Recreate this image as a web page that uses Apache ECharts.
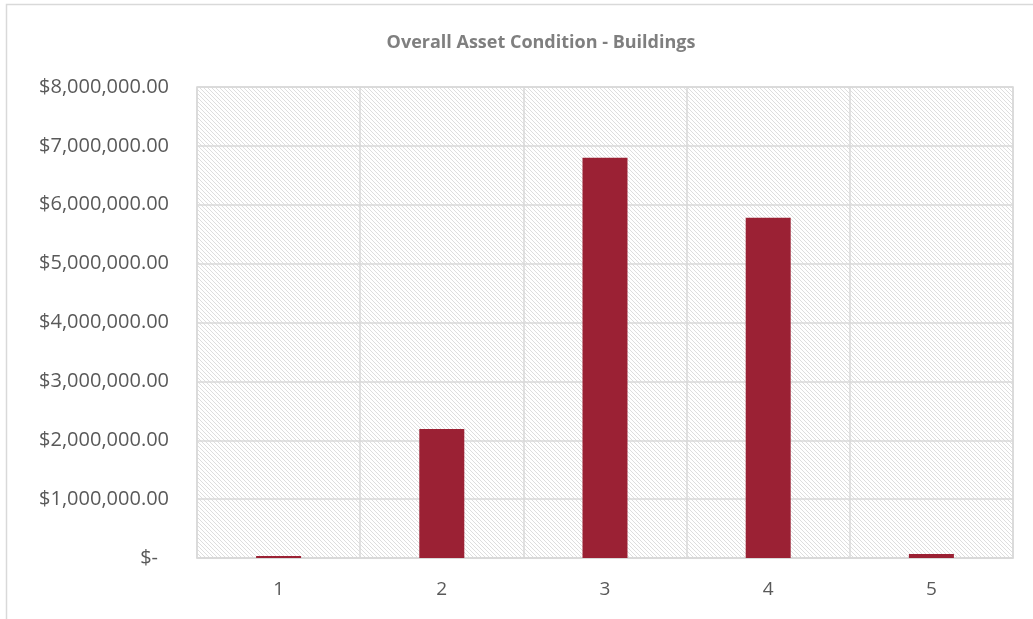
<!DOCTYPE html>
<html>
<head>
<meta charset="utf-8">
<script src="https://cdn.jsdelivr.net/npm/echarts@6/dist/echarts.min.js"></script>
<style>html,body{margin:0;padding:0;background:#fff;}#c{width:1033px;height:619px;}</style>
</head>
<body>
<div id="c"></div>
<script>
var categories = ['1', '2', '3', '4', '5'];
var values = [35000, 2190000, 6800000, 5780000, 70000];
var yTicks = [0, 1000000, 2000000, 3000000, 4000000, 5000000, 6000000, 7000000, 8000000];
var titleText = 'Overall Asset Condition - Buildings';

function makePattern() {
  var s = 8;
  var cv = document.createElement('canvas');
  cv.width = s; cv.height = s;
  var ctx = cv.getContext('2d');
  ctx.fillStyle = '#ffffff';
  ctx.fillRect(0, 0, s, s);
  ctx.strokeStyle = '#dedede';
  ctx.lineWidth = 1;
  for (var k = -s; k <= s; k += 4) {
    ctx.beginPath();
    ctx.moveTo(0, k);
    ctx.lineTo(s, k + s);
    ctx.stroke();
  }
  return { image: cv, repeat: 'repeat' };
}

var chart = echarts.init(document.getElementById('c'), null, { renderer: 'canvas' });
var fontFam = '"Open Sans", "Liberation Sans", sans-serif';
chart.setOption({
  animation: false,
  backgroundColor: '#ffffff',
  title: {
    text: titleText,
    left: 536, top: 29, textAlign: 'center',
    textStyle: { fontFamily: fontFam, fontSize: 18, fontWeight: 'bold', color: '#7f7f7f' }
  },
  graphic: [{
    type: 'rect', silent: true, z: -1,
    shape: { x: 6.5, y: 4.5, width: 1200, height: 800 },
    style: { fill: 'none', stroke: '#d9d9d9', lineWidth: 1.5 }
  }],
  grid: {
    left: 197, right: 20, top: 87, bottom: 61,
    show: true, backgroundColor: makePattern(), borderColor: '#d9d9d9', borderWidth: 1.5
  },
  xAxis: {
    type: 'category', data: categories,
    axisLine: { show: true, lineStyle: { color: '#d9d9d9', width: 1.5 } },
    axisTick: { show: false },
    splitLine: { show: true, lineStyle: { color: '#d9d9d9', width: 1.5 } },
    axisLabel: { color: '#595959', fontFamily: fontFam, fontSize: 19, margin: 22 }
  },
  yAxis: {
    type: 'value', min: yTicks[0], max: yTicks[yTicks.length - 1], interval: yTicks[1] - yTicks[0],
    axisLine: { show: false }, axisTick: { show: false },
    splitLine: { show: true, lineStyle: { color: '#d9d9d9', width: 1.5 } },
    axisLabel: {
      color: '#595959', fontFamily: fontFam, fontSize: 20, margin: 28,
      formatter: function (v) {
        if (v === 0) return '{z|$-}';
        return '$' + v.toLocaleString('en-US', { minimumFractionDigits: 2, maximumFractionDigits: 2 });
      },
      rich: { z: { color: '#595959', fontFamily: fontFam, fontSize: 20, padding: [0, 11, 0, 0] } }
    }
  },
  series: [{
    type: 'bar', data: values, barWidth: 45,
    itemStyle: { color: '#9b2134' }
  }]
});
</script>
</body>
</html>
